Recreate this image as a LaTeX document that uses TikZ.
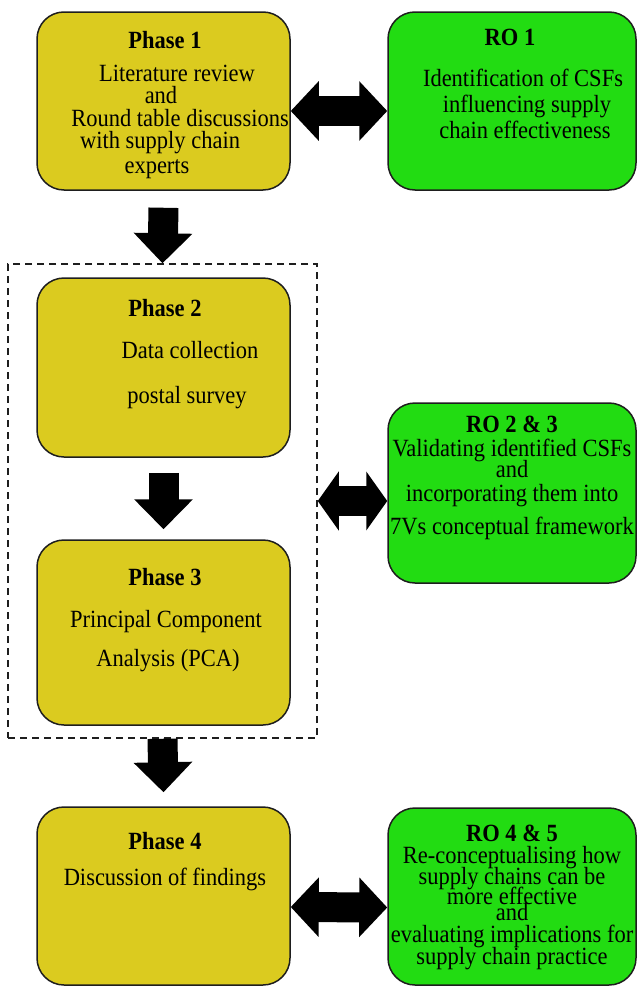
\documentclass[tikz,border=0pt]{standalone}
\usepackage{fontspec}
\setmainfont{Liberation Serif}
\usetikzlibrary{arrows.meta,calc}
\definecolor{phasey}{RGB}{219,203,31}
\definecolor{rog}{RGB}{34,220,18}
\definecolor{edgec}{RGB}{30,30,30}
\newcommand\tallt[1]{\scalebox{1}[1.1]{#1}}
\tikzset{
 box/.style={draw=edgec, line width=1.5pt, rounded corners=27pt, inner sep=0pt},
 phasebox/.style={box, fill=phasey, minimum width=253pt},
 robox/.style={box, fill=rog, minimum width=248pt},
 txt/.style={font=\fontsize{22.5}{24}\selectfont, inner sep=0pt, text height=16pt, text depth=5pt},
 ttl/.style={txt, font=\fontsize{22.5}{24}\selectfont\bfseries},
 downarrow/.style={line width=30pt, -{Triangle[width=57pt,length=30pt]}},
 dblarrow/.style={line width=30pt, {Triangle[width=58pt,length=28pt]}-{Triangle[width=58pt,length=28pt]}},
 dblarrowb/.style={line width=30pt, {Triangle[width=58pt,length=21pt]}-{Triangle[width=58pt,length=21pt]}},
}
\begin{document}
\begin{tikzpicture}[x=1pt,y=-1pt]
\useasboundingbox (0,0) rectangle (637,988);
% boxes
\node[phasebox, minimum height=178pt] (p1) at (163.5,101) {};
\node[robox, minimum height=178pt] (r1) at (512,101) {};
\node[draw=edgec, line width=1.5pt, dash pattern=on 7pt off 5pt, minimum width=309pt, minimum height=474pt, inner sep=0pt] (frame) at (162.5,501) {};
\node[phasebox, minimum height=179pt] (p2) at (163.5,367.5) {};
\node[phasebox, minimum height=185pt] (p3) at (163.5,632.5) {};
\node[phasebox, minimum height=178pt] (p4) at (163.5,896) {};
\node[robox, minimum height=180pt] (r2) at (512,493) {};
\node[robox, minimum height=177pt] (r3) at (512,896.5) {};
% arrows
\draw[downarrow] ([yshift=-17pt]p1.south) -- (frame.north);
\draw[downarrow] ([yshift=-15pt]p2.south) -- ([yshift=10pt]p3.north);
\draw[downarrow] (frame.south) -- ([yshift=14pt]p4.north);
\draw[dblarrow] ([yshift=-10pt]p1.east) -- ([yshift=-10pt]r1.west);
\draw[dblarrowb] (frame.east) -- (frame.east -| r2.west);
\draw[dblarrow] ([yshift=-11pt]p4.east) -- ([yshift=-11pt]r3.west);
% texts phase 1
\node[ttl] (p1t) at (165,43) {\tallt{Phase 1}};
\node[txt] (p1a) at (177,76) {\tallt{Literature review}};
\node[txt] (p1b) at (161,98) {\tallt{and}};
\node[txt] (p1c) at (180,121) {\tallt{Round table discussions}};
\node[txt] (p1d) at (160,143) {\tallt{with supply chain}};
\node[txt] (p1e) at (157,168) {\tallt{experts}};
% RO 1
\node[ttl] (r1t) at (510,40) {\tallt{RO 1}};
\node[txt] (r1a) at (523,81) {\tallt{Identification of CSFs}};
\node[txt] (r1b) at (527,107) {\tallt{influencing supply}};
\node[txt] (r1c) at (525,133) {\tallt{chain effectiveness}};
% phase 2
\node[ttl] (p2t) at (165,311) {\tallt{Phase 2}};
\node[txt] (p2a) at (190,353) {\tallt{Data collection}};
\node[txt] (p2b) at (187,398) {\tallt{postal survey}};
% phase 3
\node[ttl] (p3t) at (165,580) {\tallt{Phase 3}};
\node[txt] (p3a) at (166,622) {\tallt{Principal Component}};
\node[txt] (p3b) at (168,661) {\tallt{Analysis (PCA)}};
% phase 4
\node[ttl] (p4t) at (165,844) {\tallt{Phase 4}};
\node[txt] (p4a) at (165,880) {\tallt{Discussion of findings}};
% RO 2 & 3
\node[ttl] (r2t) at (512,427) {\tallt{RO 2 \& 3}};
\node[txt] (r2a) at (512,451) {\tallt{Validating identified CSFs}};
\node[txt] (r2b) at (512,472) {\tallt{and}};
\node[txt] (r2c) at (512,496) {\tallt{incorporating them into}};
\node[txt] (r2d) at (512,529) {\tallt{7Vs conceptual framework}};
% RO 4 & 5
\node[ttl] (r3t) at (512,836) {\tallt{RO 4 \& 5}};
\node[txt] (r3a) at (512,858) {\tallt{Re-conceptualising how}};
\node[txt] (r3b) at (512,879) {\tallt{supply chains can be}};
\node[txt] (r3c) at (512,899) {\tallt{more effective}};
\node[txt] (r3d) at (512,915) {\tallt{and}};
\node[txt] (r3e) at (512,937) {\tallt{evaluating implications for}};
\node[txt] (r3f) at (512,959) {\tallt{supply chain practice}};
\end{tikzpicture}
\end{document}
